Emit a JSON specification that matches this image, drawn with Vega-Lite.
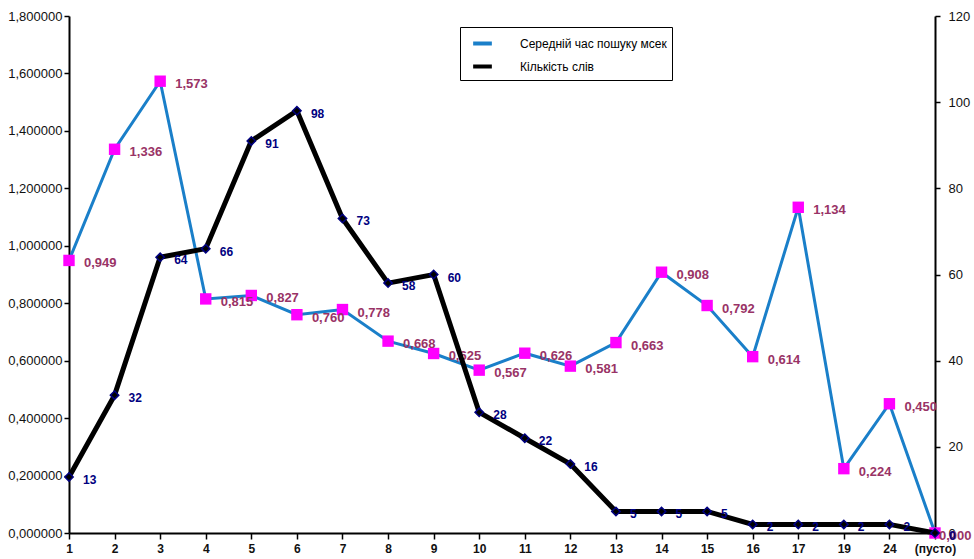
{
  "$schema": "https://vega.github.io/schema/vega-lite/v6.json",
  "width": 866,
  "height": 517,
  "autosize": "none",
  "padding": {"left": 69, "top": 16, "right": 39, "bottom": 26},
  "background": "white",
  "config": {
    "font": "Liberation Sans",
    "locale": {"number": {"decimal": ",", "thousands": " ", "grouping": [3], "currency": ["", ""]}},
    "view": {"stroke": null},
    "axis": {"grid": false, "domainColor": "black", "tickColor": "black", "domainWidth": 2, "tickWidth": 1.5, "labelColor": "#111", "labelFont": "Liberation Sans"}
  },
  "data": {
    "values": [
      {"cat": "1", "time": 0.949, "count": 13},
      {"cat": "2", "time": 1.336, "count": 32},
      {"cat": "3", "time": 1.573, "count": 64},
      {"cat": "4", "time": 0.815, "count": 66},
      {"cat": "5", "time": 0.827, "count": 91},
      {"cat": "6", "time": 0.760, "count": 98},
      {"cat": "7", "time": 0.778, "count": 73},
      {"cat": "8", "time": 0.668, "count": 58},
      {"cat": "9", "time": 0.625, "count": 60},
      {"cat": "10", "time": 0.567, "count": 28},
      {"cat": "11", "time": 0.626, "count": 22},
      {"cat": "12", "time": 0.581, "count": 16},
      {"cat": "13", "time": 0.663, "count": 5},
      {"cat": "14", "time": 0.908, "count": 5},
      {"cat": "15", "time": 0.792, "count": 5},
      {"cat": "16", "time": 0.614, "count": 2},
      {"cat": "17", "time": 1.134, "count": 2},
      {"cat": "19", "time": 0.224, "count": 2},
      {"cat": "24", "time": 0.450, "count": 2},
      {"cat": "(пусто)", "time": 0.000, "count": 0}
    ]
  },
  "encoding": {
    "x": {
      "field": "cat", "type": "ordinal", "sort": null,
      "scale": {"type": "point", "padding": 0},
      "axis": {"title": null, "labelAngle": 0, "labelFontWeight": "bold", "labelFontSize": 12, "labelPadding": 4, "tickSize": 6}
    }
  },
  "layer": [
    {
      "encoding": {
        "y": {
          "field": "time", "type": "quantitative",
          "scale": {"domain": [0, 1.8], "nice": false, "zero": true},
          "axis": {"title": null, "orient": "left", "values": [0, 0.2, 0.4, 0.6, 0.8, 1.0, 1.2, 1.4, 1.6, 1.8], "format": ".6f", "labelFontSize": 13, "tickSize": 5}
        }
      },
      "layer": [
        {"mark": {"type": "line", "strokeWidth": 3},
         "encoding": {"color": {"datum": "Середній час пошуку мсек", "type": "nominal",
           "scale": {"domain": ["Середній час пошуку мсек", "Кількість слів"], "range": ["#1a7fc9", "#000000"]},
           "legend": {"title": null, "orient": "none", "legendX": 391, "legendY": 11, "strokeColor": "black", "padding": 5, "symbolType": "stroke", "symbolStrokeWidth": 4, "symbolSize": 350, "labelFontSize": 12, "labelFont": "Liberation Sans", "rowPadding": 3, "labelOffset": 26, "labelLimit": 300, "symbolOffset": 6}}}},
        {"mark": {"type": "point", "shape": "square", "filled": true, "size": 130, "color": "#ff00ff", "opacity": 1}},
        {"transform": [{"filter": "datum.cat != '(пусто)'"}],
         "mark": {"type": "text", "align": "left", "dx": 15, "dy": 3, "fontWeight": "bold", "fontSize": 13, "color": "#993366"},
         "encoding": {"text": {"field": "time", "type": "quantitative", "format": ".3f"}}},
        {"transform": [{"filter": "datum.cat == '(пусто)'"}],
         "mark": {"type": "text", "align": "left", "dx": 4, "dy": 3, "fontWeight": "bold", "fontSize": 13, "color": "#993366"},
         "encoding": {"text": {"field": "time", "type": "quantitative", "format": ".3f"}}}
      ]
    },
    {
      "encoding": {
        "y": {
          "field": "count", "type": "quantitative",
          "scale": {"domain": [0, 120], "nice": false},
          "axis": {"title": null, "orient": "right", "values": [0, 20, 40, 60, 80, 100, 120], "labelFontSize": 13, "tickSize": 5, "labelPadding": 8}
        }
      },
      "layer": [
        {"mark": {"type": "line", "strokeWidth": 5},
         "encoding": {"color": {"datum": "Кількість слів", "type": "nominal"}}},
        {"mark": {"type": "point", "shape": "diamond", "filled": true, "size": 70, "color": "#000", "stroke": "#000080", "strokeWidth": 1.5, "opacity": 1}},
        {"mark": {"type": "text", "align": "left", "dx": 14, "dy": 3, "fontWeight": "bold", "fontSize": 12, "color": "#000080"},
         "encoding": {"text": {"field": "count", "type": "quantitative"}}}
      ]
    }
  ],
  "resolve": {"scale": {"y": "independent", "color": "shared"}}
}
